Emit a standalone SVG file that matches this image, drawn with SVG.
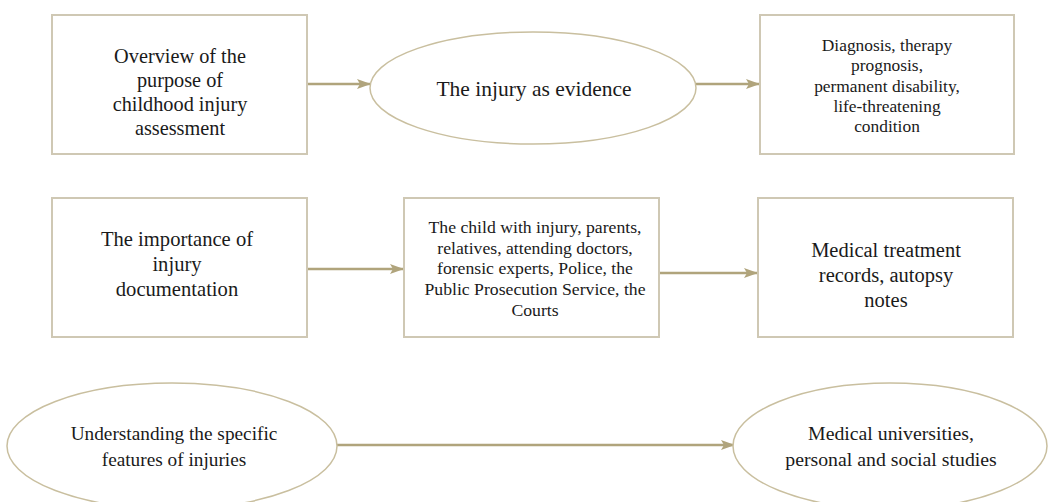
<svg xmlns="http://www.w3.org/2000/svg" width="1048" height="502" viewBox="0 0 1048 502">
<style>
.box{fill:#fff;stroke:#cfc8b4;stroke-width:2}
.ell{fill:#fff;stroke:#c9bf9f;stroke-width:1.5}
.t{font-family:"Liberation Serif","Times New Roman",serif;fill:#1a1a1a;text-anchor:middle}
.edge{stroke:#b0a47c;stroke-width:2.5;fill:none;marker-end:url(#ah)}
</style>
<defs>
<marker id="ah" markerWidth="14" markerHeight="10" refX="13" refY="5" orient="auto" markerUnits="userSpaceOnUse">
<path d="M0,0 L14,5 L0,10 L3,5 z" fill="#b0a47c"/>
</marker>
</defs>
<rect width="1048" height="502" fill="#fff"/>
<g id="connectors">
<line class="edge" x1="307" y1="84" x2="370" y2="84"/>
<line class="edge" x1="696" y1="84" x2="759" y2="84"/>
<line class="edge" x1="307" y1="269" x2="403" y2="269"/>
<line class="edge" x1="659" y1="273" x2="757" y2="273"/>
<line class="edge" x1="337" y1="445" x2="734" y2="445"/>
</g>
<g id="n1">
<rect class="box" x="52" y="15" width="255" height="139"/>
<text class="t" font-size="20.3"><tspan x="180" y="63">Overview of the</tspan><tspan x="180" y="87">purpose of</tspan><tspan x="180" y="111">childhood injury</tspan><tspan x="180" y="135">assessment</tspan></text>
</g>
<g id="n2">
<ellipse class="ell" cx="533" cy="88" rx="163" ry="56"/>
<text class="t" font-size="21.5" x="534" y="96">The injury as evidence</text>
</g>
<g id="n3">
<rect class="box" x="760" y="15" width="254" height="139"/>
<text class="t" font-size="17.4"><tspan x="887" y="51">Diagnosis, therapy</tspan><tspan x="887" y="71">prognosis,</tspan><tspan x="887" y="92">permanent disability,</tspan><tspan x="887" y="112">life-threatening</tspan><tspan x="887" y="132">condition</tspan></text>
</g>
<g id="n4">
<rect class="box" x="52" y="198" width="255" height="139"/>
<text class="t" font-size="20.6"><tspan x="177" y="246">The importance of</tspan><tspan x="177" y="271">injury</tspan><tspan x="177" y="296">documentation</tspan></text>
</g>
<g id="n5">
<rect class="box" x="404" y="198" width="255" height="139"/>
<text class="t" font-size="17.7"><tspan x="535" y="233">The child with injury, parents,</tspan><tspan x="535" y="254">relatives, attending doctors,</tspan><tspan x="535" y="274">forensic experts, Police, the</tspan><tspan x="535" y="295">Public Prosecution Service, the</tspan><tspan x="535" y="316">Courts</tspan></text>
</g>
<g id="n6">
<rect class="box" x="758" y="198" width="255" height="139"/>
<text class="t" font-size="20.5"><tspan x="886" y="257">Medical treatment</tspan><tspan x="886" y="282">records, autopsy</tspan><tspan x="886" y="307">notes</tspan></text>
</g>
<g id="n7">
<ellipse class="ell" cx="172" cy="446" rx="165" ry="63"/>
<text class="t" font-size="19.3"><tspan x="174" y="440">Understanding the specific</tspan><tspan x="174" y="466">features of injuries</tspan></text>
</g>
<g id="n8">
<ellipse class="ell" cx="890" cy="446" rx="157" ry="63"/>
<text class="t" font-size="19.8"><tspan x="891" y="440">Medical universities,</tspan><tspan x="891" y="466">personal and social studies</tspan></text>
</g>
</svg>
